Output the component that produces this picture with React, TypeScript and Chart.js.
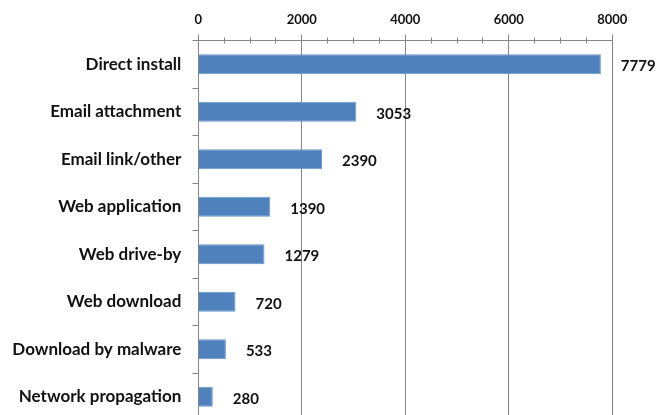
import React, { useEffect, useRef } from "react";
import { Chart, registerables } from "chart.js";

Chart.register(...registerables);

const categories = [
  "Direct install",
  "Email attachment",
  "Email link/other",
  "Web application",
  "Web drive-by",
  "Web download",
  "Download by malware",
  "Network propagation",
];
const values = [7779, 3053, 2390, 1390, 1279, 720, 533, 280];
const xMin = 0;
const xMax = 8000;
const xStep = 2000;
const xMinorStep = 500;

const FONT = "Lato, 'Open Sans', sans-serif";
const AXIS = "#868686";
const TEXT = "#111111";
const BAR = "#4f81bd";

const W = 659;
const H = 432;

export default function App() {
  const ref = useRef<HTMLCanvasElement>(null);

  useEffect(() => {
    const canvas = ref.current!;
    const al = (p: number) => Math.round(p - 0.5) + 0.5;

    const decor = {
      id: "decor",
      afterDatasetsDraw(chart: any) {
        const ctx = chart.ctx;
        const xs = chart.scales.x;
        const area = chart.chartArea;
        ctx.save();
        ctx.strokeStyle = AXIS;
        ctx.lineWidth = 1;
        const top = al(area.top);
        const left = al(area.left);
        for (let v = xMin; v <= xMax; v += xMinorStep) {
          const px = al(xs.getPixelForValue(v));
          const major = v % xStep === 0;
          const up = major ? 6 : 3;
          const down = major ? (v === xMin ? 0 : 5) : 3;
          ctx.beginPath();
          ctx.moveTo(px, top - up);
          ctx.lineTo(px, top + down);
          ctx.stroke();
        }
        const n = categories.length;
        const band = (area.bottom - area.top) / n;
        for (let i = 0; i <= n; i++) {
          const py = al(area.top + i * band);
          ctx.beginPath();
          ctx.moveTo(left - 6, py);
          ctx.lineTo(left, py);
          ctx.stroke();
        }
        const meta = chart.getDatasetMeta(0);
        ctx.fillStyle = TEXT;
        ctx.font = `bold 15px ${FONT}`;
        ctx.textAlign = "left";
        ctx.textBaseline = "middle";
        meta.data.forEach((bar: any, i: number) => {
          ctx.fillText(String(values[i]), bar.x + 20, bar.y + 2);
        });
        ctx.restore();
      },
    };

    const chart = new Chart(canvas, {
      type: "bar",
      data: {
        labels: categories,
        datasets: [
          {
            data: values,
            backgroundColor: BAR,
            borderColor: "#6c96c9",
            borderWidth: 1,
            categoryPercentage: 1,
            barPercentage: 0.42,
          },
        ],
      },
      options: {
        indexAxis: "y",
        animation: false,
        responsive: false,
        devicePixelRatio: 1,
        layout: { padding: { left: 0, right: 46.7, top: 0, bottom: H - 420.5 } },
        plugins: {
          legend: { display: false },
          tooltip: { enabled: false },
        },
        scales: {
          x: {
            position: "top",
            min: xMin,
            max: xMax,
            ticks: {
              stepSize: xStep,
              padding: 13,
              color: TEXT,
              font: { family: FONT, size: 13, weight: "bold" },
              callback: (v: any) => String(v),
            },
            grid: { color: AXIS, lineWidth: 1, drawTicks: false },
            border: { display: true, color: AXIS, width: 1 },
            afterFit: (s: any) => {
              s.height = 40.5;
              s.paddingLeft = 0;
              s.paddingRight = 0;
            },
          },
          y: {
            ticks: {
              padding: 17,
              color: TEXT,
              font: { family: FONT, size: 17, weight: "bold" },
            },
            grid: { display: false, drawTicks: false },
            border: { display: true, color: AXIS, width: 1 },
            afterFit: (s: any) => {
              s.width = 198.3;
              s.paddingTop = 0;
              s.paddingBottom = 0;
            },
          },
        },
      },
      plugins: [decor],
    });
    return () => chart.destroy();
  }, []);

  return (
    <div
      style={{
        position: "fixed",
        left: 0,
        top: 0,
        width: W,
        height: 415,
        overflow: "hidden",
        background: "#fff",
      }}
    >
      <canvas ref={ref} width={W} height={H} style={{ width: W, height: H, display: "block" }} />
    </div>
  );
}
